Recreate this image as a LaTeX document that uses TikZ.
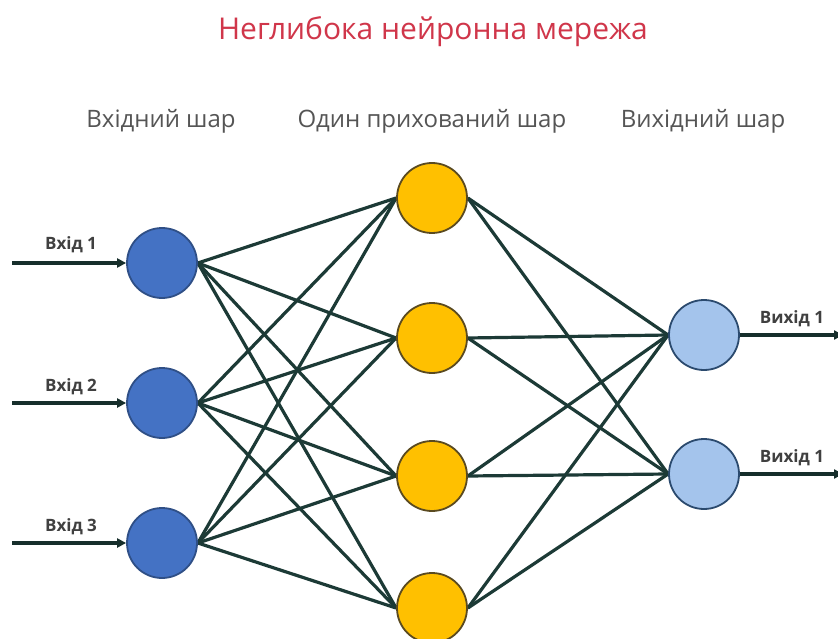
\documentclass[tikz,border=0pt]{standalone}
\usepackage{fontspec}
\setmainfont{Open Sans}
\usetikzlibrary{arrows.meta,backgrounds}
\definecolor{inblue}{HTML}{4472C4}
\definecolor{inedge}{HTML}{2F4F86}
\definecolor{hidgold}{HTML}{FFC000}
\definecolor{hidedge}{HTML}{5A4A20}
\definecolor{outblue}{HTML}{A4C4EC}
\definecolor{outedge}{HTML}{2B4A6E}
\definecolor{wire}{HTML}{1C3A36}
\definecolor{titlered}{HTML}{D0364A}
\definecolor{labgray}{HTML}{555555}
\tikzset{
  neuron/.style={circle, minimum size=70pt, inner sep=0pt, line width=1.8pt},
  inneuron/.style={neuron, fill=inblue, draw=inedge},
  hidneuron/.style={neuron, fill=hidgold, draw=hidedge},
  outneuron/.style={neuron, fill=outblue, draw=outedge},
  link/.style={draw=wire, line width=3.2pt},
  ioarrow/.style={draw=wire!80!black, line width=3.4pt, -{Triangle[length=9pt,width=9pt]}},
  iolabel/.style={anchor=base, font=\fontsize{17}{20}\selectfont\bfseries, text=black!75},
  layerlabel/.style={anchor=base, font=\fontsize{24}{28}\selectfont, text=labgray},
}
\begin{document}
\begin{tikzpicture}[x=1pt,y=-1pt]
\useasboundingbox (0,0) rectangle (838,639);

% title and layer captions
\node[anchor=base, font=\fontsize{30}{34}\selectfont, text=titlered] (title) at (433,40) {Неглибока нейронна мережа};
\node[layerlabel] (capin) at (161,128) {Вхідний шар};
\node[layerlabel] (caphid) at (432,128) {Один прихований шар};
\node[layerlabel] (capout) at (703,128) {Вихідний шар};

% input layer
\node[inneuron] (i1) at (162,263) {};
\node[inneuron] (i2) at (162,403) {};
\node[inneuron] (i3) at (162,543) {};

% hidden layer
\node[hidneuron] (h1) at (432,198) {};
\node[hidneuron] (h2) at (432,338) {};
\node[hidneuron] (h3) at (432,476) {};
\node[hidneuron] (h4) at (432,608) {};

% output layer
\node[outneuron] (o1) at (704,335) {};
\node[outneuron] (o2) at (704,474) {};

% white page, then the fully connected wiring, both behind the neurons
\begin{scope}[on background layer]
\fill[white] (0,0) rectangle (838,639);
\foreach \a in {i1,i2,i3}
  \foreach \b in {h1,h2,h3,h4}
    \draw[link] (\a.east) -- (\b.west);
\foreach \a in {h1,h2,h3,h4}
  \foreach \b in {o1,o2}
    \draw[link] (\a.east) -- (\b.west);
\end{scope}

% input arrows
\coordinate (s1) at (12,263);
\coordinate (s2) at (12,403);
\coordinate (s3) at (12,543);
\draw[ioarrow] (s1) -- (i1.west);
\draw[ioarrow] (s2) -- (i2.west);
\draw[ioarrow] (s3) -- (i3.west);
\node[iolabel] (l1) at (71,250) {Вхід 1};
\node[iolabel] (l2) at (71,391) {Вхід 2};
\node[iolabel] (l3) at (71,531) {Вхід 3};

% output arrows
\coordinate (e1) at (843,335);
\coordinate (e2) at (843,474);
\draw[ioarrow] (o1.east) -- (e1);
\draw[ioarrow] (o2.east) -- (e2);
\node[iolabel] (r1) at (792,323) {Вихід 1};
\node[iolabel] (r2) at (792,462) {Вихід 1};
\end{tikzpicture}
\end{document}
